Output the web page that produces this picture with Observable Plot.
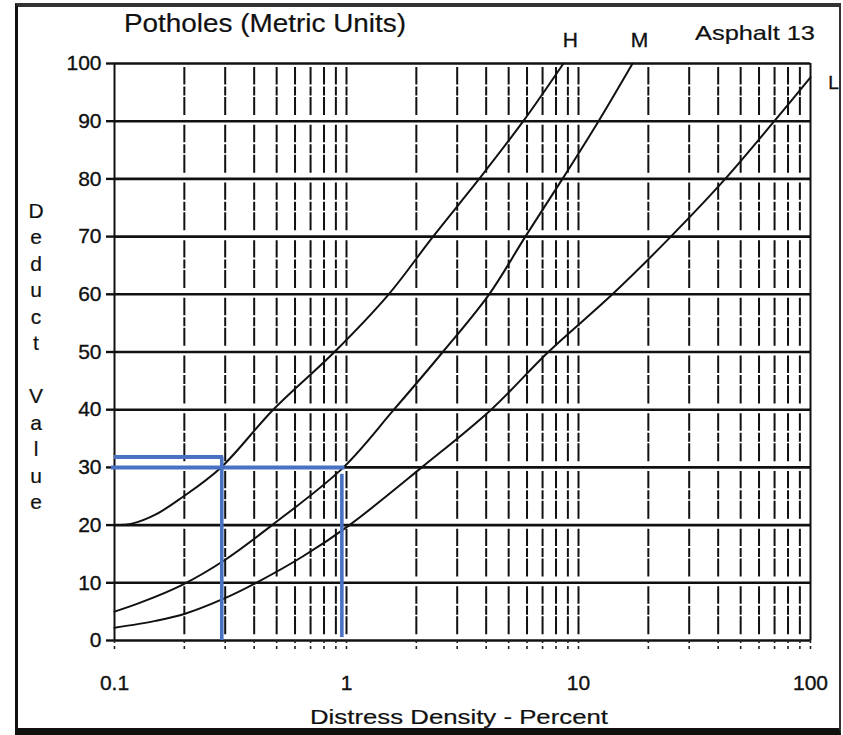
<!DOCTYPE html>
<html><head><meta charset="utf-8">
<script src="https://cdn.jsdelivr.net/npm/d3@7"></script>
<script src="https://cdn.jsdelivr.net/npm/@observablehq/plot@0.6"></script>
<style>
html,body{margin:0;padding:0;background:#fff;}
#wrap{position:relative;width:843px;height:735px;overflow:hidden;background:#fff;}
#chart{position:absolute;left:0;top:0;}
#labels{position:absolute;left:0;top:0;}
#frame{position:absolute;left:15px;top:3px;width:826px;height:732px;box-sizing:border-box;border-left:3px solid #111;border-top:4px solid #333;border-right:2px solid #333;border-bottom:7px solid #111;pointer-events:none;}
#labels text{font-family:"Liberation Sans",Arial,sans-serif;fill:#111;stroke:#111;stroke-width:0.2px;}
#chart svg text{stroke:#111;stroke-width:0.35px;}
</style></head><body>
<div id="wrap"><div id="chart"></div><svg id="labels" width="843" height="735"></svg><div id="frame"></div></div>
<script>
// ---- text ----
const title = "Potholes (Metric Units)";
const panelNote = "Asphalt 13";
const xTitle = "Distress Density - Percent";
const yTitleTop = "Deduct";
const yTitleBottom = "Value";

// ---- axes ----
const xTickValues = [0.1, 1, 10, 100];
const xTickLabels = ["0.1", "1", "10", "100"];
const yTickValues = [0, 10, 20, 30, 40, 50, 60, 70, 80, 90, 100];
const mantissas = [1, 2, 3, 4, 5, 6, 7, 8, 9];
const decades = [0.1, 1, 10];

// ---- curves (severity H, M, L) ----
const hX = [0.1, 0.12, 0.15, 0.194, 0.288, 0.483, 0.887, 1.52, 2.36, 3.73, 5.78, 8.61];
const hY = [20, 20.3, 21.8, 24.7, 30, 40, 50, 60, 70, 80, 90, 100];
const mX = [0.1, 0.13, 0.197, 0.3, 0.478, 0.97, 1.60, 2.60, 4.12, 5.90, 8.53, 12.2, 17.1];
const mY = [5, 6.6, 9.7, 14, 20, 30, 40, 50, 60, 70, 80, 90, 100];
const lX = [0.1, 0.15, 0.2, 0.294, 0.408, 0.65, 1.03, 2.11, 4.20, 7.41, 14.0, 25.0, 42.9, 69.8, 100];
const lY = [2.2, 3.4, 4.6, 7.2, 10, 14.6, 20, 30, 40, 50, 60, 70, 80, 90, 97.6];

// ---- blue reading lines ----
const readDropX = [0.29, 0.955];
const readLevelEndX = [0.295, 0.985];
const readLevelStartX = [0.1, 0.097];
const readLevelY = [31.8, 30.0];
const readDropTop = [31.8, 28.8];
const readDropBottom = [0, 0.5];

const series = [
  {name: "H", xs: hX, ys: hY},
  {name: "M", xs: mX, ys: mY},
  {name: "L", xs: lX, ys: lY}
];
const curveData = series.flatMap(s => s.xs.map((x, i) => ({series: s.name, x, y: s.ys[i]})));
const curveEnds = series.map(s => ({series: s.name, x: s.xs[s.xs.length - 1], y: s.ys[s.ys.length - 1]}));

const gridX = decades.flatMap(d => mantissas.map(m => +(d * m).toPrecision(3))).filter(v => v > 0.1);
const allTicks = [...decades.flatMap(d => mantissas.map(m => +(d * m).toPrecision(3))), 100];
const bands = yTickValues.slice(0, -1);
const gridCells = gridX.flatMap(x => bands.map(b => ({x, b})));
const readings = readDropX.map((x, i) => ({x, xs: readLevelStartX[i], xe: readLevelEndX[i], y: readLevelY[i], yt: readDropTop[i], yb: readDropBottom[i]}));

const blue = "#4a72c4";

const chart = Plot.plot({
  width: 843,
  height: 735,
  marginLeft: 114,
  marginRight: 33,
  marginTop: 63,
  marginBottom: 95,
  style: {fontFamily: "Liberation Sans, Arial, sans-serif", fontSize: "21px", color: "#111", background: "transparent"},
  x: {type: "log", domain: [0.1, 100], label: null},
  y: {domain: [0, 100], label: null},
  marks: [
    Plot.ruleX(gridCells, {x: "x", y1: d => d.b + 1.0, y2: d => d.b + 9.3, stroke: "#111", strokeWidth: 2, strokeDasharray: "18,1.5,9,2"}),
    Plot.ruleY(yTickValues, {stroke: "#111", strokeWidth: 2.6}),
    Plot.ruleX([xTickValues[0], xTickValues[xTickValues.length - 1]], {stroke: "#111", strokeWidth: 2}),
    Plot.axisY(yTickValues, {tickSize: 8, tickPadding: 5, strokeWidth: 2.4, fontSize: 21, stroke: "#111"}),
    Plot.axisX(allTicks, {tickSize: 11, tickFormat: () => "", strokeDasharray: "3,3", strokeWidth: 1.6, stroke: "#222"}),
    Plot.axisX(xTickValues, {tickSize: 0, tickPadding: 35, fontSize: 21, tickFormat: d => xTickLabels[xTickValues.indexOf(d)]}),
    Plot.line(curveData, {x: "x", y: "y", z: "series", curve: "catmull-rom", stroke: "#111", strokeWidth: 2}),
    Plot.ruleY(readings, {y: "y", x1: "xs", x2: "xe", stroke: blue, strokeWidth: 4}),
    Plot.ruleX(readings, {x: "x", y1: "yb", y2: "yt", stroke: blue, strokeWidth: 3.6}),
    Plot.text(curveEnds.filter(d => d.series !== "L"), {x: "x", y: "y", text: "series", dy: -23, dx: 7, fontSize: 21}),
    Plot.text(curveEnds.filter(d => d.series === "L"), {x: "x", y: "y", text: "series", dx: 23, dy: 6, fontSize: 19})
  ]
});
document.getElementById("chart").appendChild(chart);

// ---- titles as text ----
const lab = d3.select("#labels");
function addText(str, x, y, size, len, anchor) {
  const t = lab.append("text").attr("x", x).attr("y", y).attr("font-size", size).text(str);
  if (len) t.attr("textLength", len).attr("lengthAdjust", "spacingAndGlyphs");
  if (anchor) t.attr("text-anchor", anchor);
  return t;
}
addText(title, 124, 32, 25, 282);
addText(panelNote, 695, 40, 21, 120);
addText(xTitle, 310, 724, 21, 298);
const step = 26.5;
yTitleTop.split("").forEach((ch, i) => addText(ch, 36, 210 + 7.5 + i * step, 21, null, "middle"));
yTitleBottom.split("").forEach((ch, i) => addText(ch, 36, 210 + 7.5 + (yTitleTop.length + 1 + i) * step, 21, null, "middle"));
</script>
</body></html>
